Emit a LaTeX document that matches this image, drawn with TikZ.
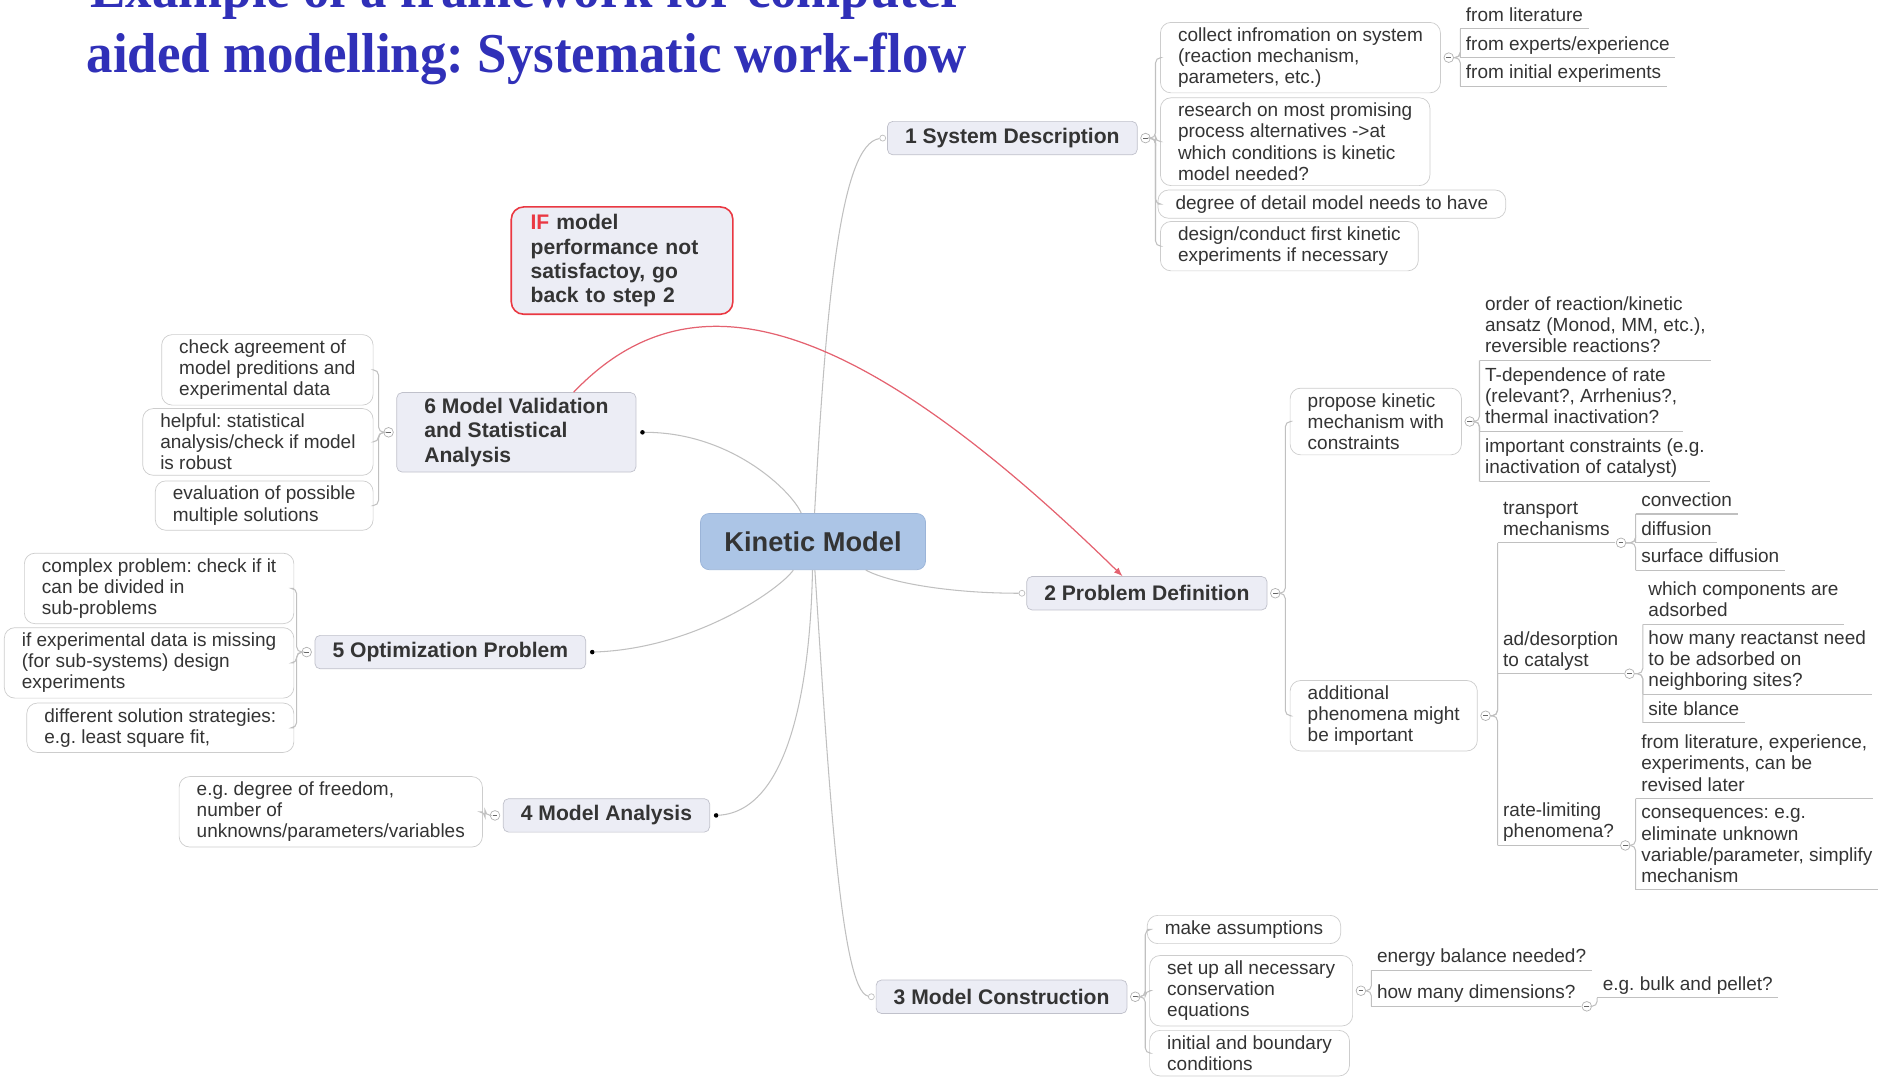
\documentclass[tikz,border=0pt]{standalone}
\usepackage{fontspec}
\setmainfont{Liberation Sans}
\newfontfamily\titlefont[FakeStretch=0.94]{Liberation Serif}
\frenchspacing
\definecolor{titleblue}{RGB}{48,48,184}
\definecolor{topicfill}{RGB}{236,237,245}
\definecolor{topicline}{RGB}{192,193,203}
\definecolor{rootfill}{RGB}{172,197,230}
\definecolor{rootline}{RGB}{155,180,216}
\definecolor{notegray}{RGB}{205,205,205}
\definecolor{linkgray}{RGB}{192,192,192}
\definecolor{inkgray}{RGB}{52,52,52}
\definecolor{warnred}{RGB}{234,56,66}
\definecolor{loopred}{RGB}{228,98,112}

\begin{document}
\begin{tikzpicture}[x=0.024cm, y=-0.024cm]
\tikzset{txt/.style={font=\fontsize{10.8}{12}\selectfont, text=inkgray},
link/.style={draw=linkgray, line width=0.6pt, rounded corners=3pt},
kinroot/.style={draw=rootline, fill=rootfill, rounded corners=5pt, text=inkgray, font=\fontsize{15.5}{18}\selectfont\bfseries, minimum width=128pt, minimum height=32pt},
topic/.style={draw=topicline, fill=topicfill, rounded corners=3pt, text=inkgray, font=\fontsize{12}{14}\selectfont\bfseries, inner xsep=10pt, inner ysep=3pt, minimum height=19pt},
note/.style={txt, draw=notegray, fill=white, rounded corners=6pt, align=left, inner xsep=10pt, inner ysep=3pt},
leaf/.style={txt, align=left, inner xsep=3pt, inner ysep=0.5pt, anchor=south west, execute at begin node=\strut, execute at end node=\strut, append after command={(\tikzlastnode.south west) edge[link] (\tikzlastnode.south east)}},
fold/.style={circle, draw=gray!60, fill=white, minimum size=5.5pt, inner sep=0pt, path picture={\draw[gray!80!black, line width=0.5pt] ([xshift=-1.3pt]path picture bounding box.center) -- ([xshift=1.3pt]path picture bounding box.center);}},
tipdot/.style={circle, fill=black, minimum size=2.6pt, inner sep=0pt},
knob/.style={circle, draw=gray!50, fill=white, minimum size=3.4pt, inner sep=0pt},
warnbox/.style={draw=warnred, line width=0.9pt, fill=topicfill, rounded corners=7pt, text=inkgray, font=\fontsize{12}{13.7}\selectfont\bfseries, align=left, text width=104pt, inner xsep=11pt, minimum height=61pt},
loopback/.style={draw=loopred, line width=0.7pt, -latex},
headline/.style={font=\titlefont\bfseries\fontsize{32}{36}\selectfont, text=titleblue, inner sep=0pt, anchor=base west}}
\clip (0,0) rectangle (1568,900);
\node[headline] (head1) at (75,6) {Example of a framework for computer};
\node[headline] (head2) at (72,60) {aided modelling: Systematic work-flow};

\node[kinroot] (kin) at (677,451) {Kinetic Model};
\node[topic] (sysdesc) at (843,115) {1 System Description};
\node[topic] (probdef) at (955,494) {2 Problem Definition};
\node[topic] (modcon) at (834,830) {3 Model Construction};
\node[topic] (modana) at (505,679) {4 Model Analysis};
\node[topic] (optprob) at (375,543) {5 Optimization Problem};
\node[topic, align=left, minimum width=136pt] (modval) at (430,360) {6 Model Validation\\and Statistical\\Analysis};
\node[warnbox] (goback) at (518,217) {\textcolor{warnred}{IF} model\\performance not\\satisfactoy, go\\back to step 2};

\node[knob] (ksys) at ([xshift=-2.5pt]sysdesc.west) {};
\node[knob] (kprob) at ([xshift=-2.5pt]probdef.west) {};
\node[knob] (kcon) at ([xshift=-2.5pt]modcon.west) {};
\node[tipdot] (dana) at ([xshift=3.5pt]modana.east) {};
\node[tipdot] (dopt) at ([xshift=3.5pt]optprob.east) {};
\node[tipdot] (dval) at ([xshift=3.5pt]modval.east) {};
\node[fold] (fsys) at ([xshift=4.5pt]sysdesc.east) {};
\node[fold] (fprob) at ([xshift=4.5pt]probdef.east) {};
\node[fold] (fcon) at ([xshift=4.5pt]modcon.east) {};
\node[fold] (fana) at ([xshift=-4.5pt]modana.west) {};
\node[fold] (fopt) at ([xshift=-4.5pt]optprob.west) {};
\node[fold] (fval) at ([xshift=-4.5pt]modval.west) {};

\draw[link] (kin) .. controls (688,250) and (700,120) .. (ksys);
\draw[link] (kin) .. controls (740,485) and (790,494) .. (kprob);
\draw[link] (kin) .. controls (690,650) and (700,825) .. (kcon);
\draw[link] (kin) .. controls (675,560) and (660,675) .. (dana);
\draw[link] (kin) .. controls (650,490) and (580,540) .. (dopt);
\draw[link] (kin) .. controls (660,410) and (610,360) .. (dval);
\draw[loopback] (modval.35) .. controls (570,230) and (700,250) .. (probdef.145);

\node[note, anchor=west] (collect) at (966,48) {collect infromation on system\\(reaction mechanism,\\parameters, etc.)};
\node[note, anchor=west] (research) at (966,118) {research on most promising\\process alternatives ->at\\which conditions is kinetic\\model needed?};
\node[note, anchor=west] (detail) at (964,170) {degree of detail model needs to have};
\node[note, anchor=west] (firstexp) at (966,205) {design/conduct first kinetic\\experiments if necessary};
\draw[link] (fsys.east) -- ++(4,0) |- (collect.west);
\draw[link] (fsys.east) -- ++(4,0) |- (research.west);
\draw[link] (fsys.east) -- ++(4,0) |- (detail.west);
\draw[link] (fsys.east) -- ++(4,0) |- (firstexp.west);
\node[fold] (fcollect) at ([xshift=4.5pt]collect.east) {};
\node[leaf] (fromlit) at (1216,24) {from literature};
\node[leaf] (fromexp) at (1216,48) {from experts/experience};
\node[leaf] (frominit) at (1216,72) {from initial experiments};
\draw[link] (fcollect.east) -| (fromlit.south west);
\draw[link] (fcollect.east) -| (fromexp.south west);
\draw[link] (fcollect.east) -| (frominit.south west);

\node[note, anchor=west] (propose) at (1074,351) {propose kinetic\\mechanism with\\constraints};
\node[note, anchor=west] (addphen) at (1074,596) {additional\\phenomena might\\be important};
\draw[link] (fprob.east) -- ++(4,0) |- (propose.west);
\draw[link] (fprob.east) -- ++(4,0) |- (addphen.west);
\node[fold] (fpropose) at ([xshift=4.5pt]propose.east) {};
\node[leaf] (order) at (1232,300) {order of reaction/kinetic\\ansatz (Monod, MM, etc.),\\reversible reactions?};
\node[leaf] (tdep) at (1232,359) {T-dependence of rate\\(relevant?, Arrhenius?,\\thermal inactivation?};
\node[leaf] (constr) at (1232,401) {important constraints (e.g.\\inactivation of catalyst)};
\draw[link] (fpropose.east) -| (order.south west);
\draw[link] (fpropose.east) -| (tdep.south west);
\draw[link] (fpropose.east) -| (constr.south west);
\node[fold] (faddphen) at ([xshift=4.5pt]addphen.east) {};
\node[leaf] (transp) at (1247,452) {transport\\mechanisms};
\node[leaf] (adsorp) at (1247,561) {ad/desorption\\to catalyst};
\node[leaf] (ratelim) at (1247,704) {rate-limiting\\phenomena?};
\draw[link] (faddphen.east) -| (transp.south west);
\draw[link] (faddphen.east) -| (adsorp.south west);
\draw[link] (faddphen.east) -| (ratelim.south west);
\node[fold] (ftransp) at ([xshift=3.2pt]transp.south east) {};
\node[leaf] (convec) at (1362,428) {convection};
\node[leaf] (diffus) at (1362,452) {diffusion};
\node[leaf] (surfdif) at (1362,475) {surface diffusion};
\draw[link] (ftransp.east) -| (convec.south west);
\draw[link] (ftransp.east) -| (diffus.south west);
\draw[link] (ftransp.east) -| (surfdif.south west);
\node[fold] (fadsorp) at ([xshift=3.2pt]adsorp.south east) {};
\node[leaf] (whichcomp) at (1368,520) {which components are\\adsorbed};
\node[leaf] (howmany) at (1368,578) {how many reactanst need\\to be adsorbed on\\neighboring sites?};
\node[leaf] (sitebal) at (1368,602) {site blance};
\draw[link] (fadsorp.east) -| (whichcomp.south west);
\draw[link] (fadsorp.east) -| (howmany.south west);
\draw[link] (fadsorp.east) -| (sitebal.south west);
\node[fold] (fratelim) at ([xshift=3.2pt]ratelim.south east) {};
\node[leaf] (fromlit2) at (1362,665) {from literature, experience,\\experiments, can be\\revised later};
\node[leaf] (conseq) at (1362,741) {consequences: e.g.\\eliminate unknown\\variable/parameter, simplify\\mechanism};
\draw[link] (fratelim.east) -| (fromlit2.south west);
\draw[link] (fratelim.east) -| (conseq.south west);

\node[note, anchor=west] (assump) at (955,774) {make assumptions};
\node[note, anchor=west] (conserv) at (957,825) {set up all necessary\\conservation\\equations};
\node[note, anchor=west] (initbc) at (957,877) {initial and boundary\\conditions};
\draw[link] (fcon.east) -- ++(4,0) |- (assump.west);
\draw[link] (fcon.east) -- ++(4,0) |- (conserv.west);
\draw[link] (fcon.east) -- ++(4,0) |- (initbc.west);
\node[fold] (fconserv) at ([xshift=4.5pt]conserv.east) {};
\node[leaf] (energy) at (1142,808) {energy balance needed?};
\node[leaf] (dims) at (1142,838) {how many dimensions?};
\draw[link] (fconserv.east) -| (energy.south west);
\draw[link] (fconserv.east) -| (dims.south west);
\node[fold] (fdims) at ([xshift=3.2pt]dims.south east) {};
\node[leaf] (bulk) at (1330,831) {e.g. bulk and pellet?};
\draw[link] (fdims.east) -| (bulk.south west);

\node[note, anchor=east] (dof) at (402,676) {e.g. degree of freedom,\\number of\\unknowns/parameters/variables};
\draw[link] (fana.west) -- ++(-4,0) |- (dof.east);

\node[note, anchor=east] (complex) at (245,490) {complex problem: check if it\\can be divided in\\sub-problems};
\node[note, anchor=east] (missing) at (245,552) {if experimental data is missing\\(for sub-systems) design\\experiments};
\node[note, anchor=east] (strateg) at (245,606) {different solution strategies:\\e.g. least square fit,};
\draw[link] (fopt.west) -- ++(-4,0) |- (complex.east);
\draw[link] (fopt.west) -- ++(-4,0) |- (missing.east);
\draw[link] (fopt.west) -- ++(-4,0) |- (strateg.east);

\node[note, anchor=east] (agree) at (311,308) {check agreement of\\model preditions and\\experimental data};
\node[note, anchor=east] (helpful) at (311,368) {helpful: statistical\\analysis/check if model\\is robust};
\node[note, anchor=east] (evalsol) at (311,421) {evaluation of possible\\multiple solutions};
\draw[link] (fval.west) -- ++(-4,0) |- (agree.east);
\draw[link] (fval.west) -- ++(-4,0) |- (helpful.east);
\draw[link] (fval.west) -- ++(-4,0) |- (evalsol.east);
\end{tikzpicture}
\end{document}
